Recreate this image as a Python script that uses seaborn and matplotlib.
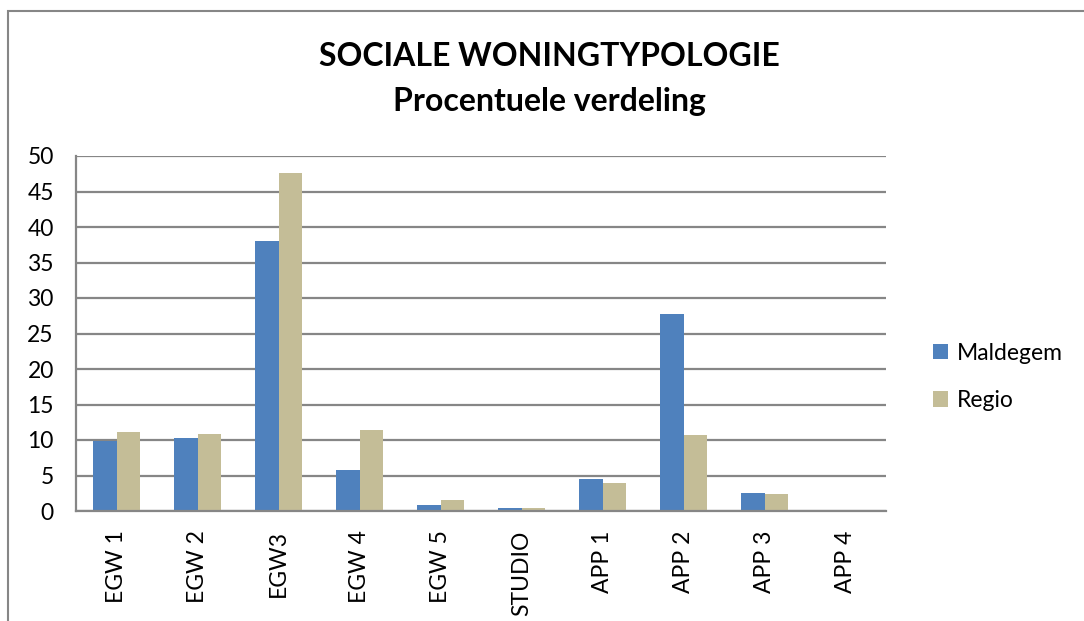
import matplotlib
matplotlib.use("Agg")
import pandas as pd
import matplotlib.pyplot as plt
import seaborn as sns
from matplotlib.patches import Rectangle

# data
categories = ["EGW 1", "EGW 2", "EGW3", "EGW 4", "EGW 5", "STUDIO", "APP 1", "APP 2", "APP 3", "APP 4"]
maldegem = [9.9, 10.3, 38.0, 5.8, 0.85, 0.4, 4.45, 27.75, 2.6, 0.0]
regio = [11.1, 10.85, 47.6, 11.45, 1.5, 0.45, 3.9, 10.7, 2.4, 0.0]
series_names = ["Maldegem", "Regio"]
colors = ["#4F81BD", "#C4BD97"]

df = pd.DataFrame({
    "typologie": categories * 2,
    "pct": maldegem + regio,
    "reeks": [series_names[0]] * len(categories) + [series_names[1]] * len(categories),
})

sns.set_style("white")
plt.rcParams['font.family'] = ['Lato', 'DejaVu Sans']
plt.rcParams['text.color'] = 'black'
plt.rcParams['xtick.color'] = 'black'
plt.rcParams['ytick.color'] = 'black'

grid_col = "#868686"

fig = plt.figure(figsize=(10.84, 6.21), dpi=100)
ax = fig.add_axes([76 / 1084, 1 - 511 / 621, 810 / 1084, 355 / 621])

sns.barplot(data=df, x="typologie", y="pct", hue="reeks", palette=colors,
            width=0.57, gap=0, linewidth=0, saturation=1, ax=ax)

ax.set_ylim(0, 50)
ax.set_xlim(-0.5, 9.5)
ax.set_yticks(range(0, 51, 5))
ax.yaxis.grid(True, color=grid_col, lw=1.6)
ax.set_axisbelow(True)
ax.set_xlabel("")
ax.set_ylabel("")

for side in ["top", "right"]:
    ax.spines[side].set_visible(False)
for side in ["left", "bottom"]:
    ax.spines[side].set_color(grid_col)
    ax.spines[side].set_linewidth(1.6)

ax.tick_params(axis="x", rotation=90, length=0, pad=14, labelsize=16.5)
ax.tick_params(axis="y", length=0, pad=16, labelsize=16.5)

# legend on the right
handles, labels = ax.get_legend_handles_labels()
ax.legend(handles, labels, loc="center left", bbox_to_anchor=(912 / 1084, 1 - 377 / 621),
          bbox_transform=fig.transFigure, frameon=False, fontsize=16.5,
          handlelength=0.65, handleheight=0.65, handletextpad=0.4, labelspacing=1.15)

# titles
fig.text(549 / 1084, 1 - 57 / 621, "SOCIALE WONINGTYPOLOGIE", ha="center", va="center",
         fontsize=23, fontweight="bold")
fig.text(549 / 1084, 1 - 101 / 621, "Procentuele verdeling", ha="center", va="center",
         fontsize=23, fontweight="bold")

# chart border (left and top edges visible)
fig.patches.append(Rectangle((8 / 1084, -0.1), 1.2, 1.1 - 11 / 621,
                             transform=fig.transFigure, fill=False,
                             edgecolor=grid_col, lw=1.5))

fig.savefig("out.png", dpi=100)
